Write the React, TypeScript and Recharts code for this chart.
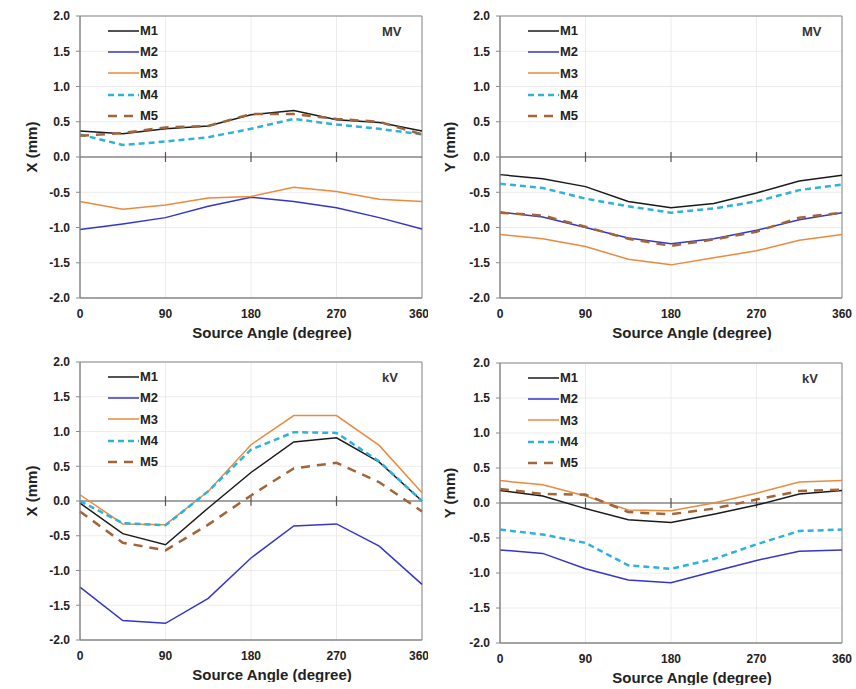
import {
  LineChart,
  Line,
  XAxis,
  YAxis,
  CartesianGrid,
  ReferenceLine,
  ReferenceArea,
  Legend,
} from "recharts";

const angles = [0, 45, 90, 135, 180, 225, 270, 315, 360];
const xTicks = [0, 90, 180, 270, 360];
const yTicks = [-2, -1.5, -1, -0.5, 0, 0.5, 1, 1.5, 2];
const seriesNames = ["M1", "M2", "M3", "M4", "M5"];

// MV, X direction
const mvX1 = [0.37, 0.33, 0.4, 0.44, 0.6, 0.66, 0.53, 0.49, 0.37];
const mvX2 = [-1.03, -0.95, -0.86, -0.7, -0.57, -0.63, -0.72, -0.86, -1.02];
const mvX3 = [-0.63, -0.74, -0.68, -0.58, -0.56, -0.43, -0.49, -0.6, -0.63];
const mvX4 = [0.32, 0.17, 0.22, 0.28, 0.4, 0.54, 0.46, 0.4, 0.32];
const mvX5 = [0.3, 0.34, 0.42, 0.44, 0.61, 0.61, 0.54, 0.5, 0.32];

// MV, Y direction
const mvY1 = [-0.25, -0.31, -0.42, -0.63, -0.72, -0.66, -0.51, -0.34, -0.26];
const mvY2 = [-0.78, -0.85, -1.0, -1.15, -1.23, -1.16, -1.04, -0.89, -0.79];
const mvY3 = [-1.1, -1.16, -1.27, -1.45, -1.53, -1.43, -1.33, -1.18, -1.1];
const mvY4 = [-0.38, -0.44, -0.59, -0.7, -0.79, -0.73, -0.63, -0.47, -0.39];
const mvY5 = [-0.79, -0.83, -0.99, -1.16, -1.26, -1.17, -1.06, -0.86, -0.79];

// kV, X direction
const kvX1 = [-0.03, -0.47, -0.63, -0.1, 0.41, 0.85, 0.91, 0.56, 0.0];
const kvX2 = [-1.24, -1.72, -1.76, -1.4, -0.82, -0.36, -0.33, -0.65, -1.2];
const kvX3 = [0.09, -0.33, -0.34, 0.14, 0.81, 1.23, 1.23, 0.8, 0.12];
const kvX4 = [0.0, -0.32, -0.35, 0.14, 0.74, 0.99, 0.98, 0.57, 0.0];
const kvX5 = [-0.15, -0.6, -0.71, -0.34, 0.08, 0.47, 0.55, 0.27, -0.15];

// kV, Y direction
const kvY1 = [0.18, 0.1, -0.08, -0.24, -0.28, -0.16, -0.03, 0.13, 0.18];
const kvY2 = [-0.67, -0.72, -0.94, -1.1, -1.14, -0.98, -0.82, -0.69, -0.67];
const kvY3 = [0.32, 0.26, 0.1, -0.1, -0.11, 0.0, 0.14, 0.3, 0.32];
const kvY4 = [-0.38, -0.45, -0.57, -0.89, -0.94, -0.8, -0.59, -0.4, -0.38];
const kvY5 = [0.2, 0.13, 0.12, -0.13, -0.16, -0.08, 0.05, 0.17, 0.19];

const FONT = "'Liberation Sans', Arial, sans-serif";

const styles = [
  { color: "#1a1a1a", width: 1.5, dash: undefined },
  { color: "#3535c8", width: 1.5, dash: undefined },
  { color: "#ea8a3e", width: 1.5, dash: undefined },
  { color: "#2eb2da", width: 2.5, dash: "6 4" },
  { color: "#a2653a", width: 2.5, dash: "9 7" },
];

function buildRows(series: number[][]) {
  return angles.map((a, i) => {
    const row: Record<string, number> = { angle: a };
    seriesNames.forEach((n, k) => {
      row[n] = series[k][i];
    });
    return row;
  });
}

function LegendBox() {
  return (
    <div style={{ fontFamily: FONT, fontWeight: "bold", fontSize: 13, color: "#222" }}>
      {seriesNames.map((n, k) => (
        <div key={n} style={{ display: "flex", alignItems: "center", height: 21.3 }}>
          <svg width={31} height={6}>
            <line
              x1={0}
              y1={3}
              x2={31}
              y2={3}
              stroke={styles[k].color}
              strokeWidth={styles[k].width}
              strokeDasharray={styles[k].dash}
            />
          </svg>
          <span style={{ marginLeft: 1 }}>{n}</span>
        </div>
      ))}
    </div>
  );
}

interface PanelProps {
  left: number;
  top: number;
  yWidth: number;
  rightMargin: number;
  plotHeight: number;
  yLabel: string;
  yLabelX: number;
  tag: string;
  series: number[][];
}

function Panel({ left, top, yWidth, rightMargin, plotHeight, yLabel, yLabelX, tag, series }: PanelProps) {
  const rows = buildRows(series);
  const height = 16 + plotHeight + 42;
  const tickStyle = { fill: "#222", fontSize: 12, fontWeight: "bold", fontFamily: FONT };
  return (
    <div style={{ position: "absolute", left, top, width: 428, height }}>
      <LineChart
        width={428}
        height={height}
        data={rows}
        margin={{ top: 16, right: rightMargin, left: 0, bottom: 0 }}
      >
        <CartesianGrid stroke="#ececec" strokeWidth={1} />
        <XAxis
          dataKey="angle"
          type="number"
          domain={[0, 360]}
          ticks={xTicks}
          tickLine={false}
          axisLine={{ stroke: "#888" }}
          tick={tickStyle}
          tickMargin={5}
          height={42}
          label={{
            position: "insideBottom",
            content: (p: any) => {
              const vb = p.viewBox;
              return (
                <text
                  x={vb.x + vb.width / 2 + 21}
                  y={vb.y + vb.height - 2}
                  textAnchor="middle"
                  fontFamily={FONT}
                  fontWeight="bold"
                  fontSize={15}
                  fill="#222"
                >
                  Source Angle (degree)
                </text>
              );
            },
          }}
        />
        <YAxis
          type="number"
          domain={[-2, 2]}
          ticks={yTicks}
          tickFormatter={(v: number) => v.toFixed(1)}
          tick={tickStyle}
          tickSize={4}
          tickMargin={6}
          tickLine={{ stroke: "#888" }}
          axisLine={{ stroke: "#888" }}
          width={yWidth}
          label={{
            position: "center",
            content: (p: any) => {
              const vb = p.viewBox;
              return (
                <text
                  transform={`translate(${yLabelX},${vb.y + vb.height / 2 - 10}) rotate(-90)`}
                  textAnchor="middle"
                  dominantBaseline="middle"
                  fontFamily={FONT}
                  fontWeight="bold"
                  fontSize={15}
                  fill="#222"
                >
                  {yLabel}
                </text>
              );
            },
          }}
        />
        <ReferenceArea x1={0} x2={360} y1={-2} y2={2} fill="none" stroke="#888" strokeWidth={1} />
        <ReferenceLine y={0} stroke="#555" strokeWidth={1.2} />
        {[90, 180, 270].map((a) => (
          <ReferenceLine
            key={a}
            segment={[
              { x: a, y: -0.07 },
              { x: a, y: 0.07 },
            ]}
            stroke="#555"
            strokeWidth={1.2}
          />
        ))}
        <Legend
          layout="horizontal"
          verticalAlign="middle"
          align="center"
          wrapperStyle={{ left: yWidth + 28, top: 20, width: "auto" }}
          content={() => <LegendBox />}
        />
        {seriesNames.map((n, k) => (
          <Line
            key={n}
            dataKey={n}
            type="linear"
            dot={false}
            stroke={styles[k].color}
            strokeWidth={styles[k].width}
            strokeDasharray={styles[k].dash}
            isAnimationActive={false}
          />
        ))}
      </LineChart>
      <div
        style={{
          position: "absolute",
          left: yWidth + 302,
          top: 24,
          fontFamily: FONT,
          fontWeight: "bold",
          fontSize: 13,
          color: "#333",
        }}
      >
        {tag}
      </div>
    </div>
  );
}

export default function App() {
  return (
    <div style={{ position: "absolute", left: 0, top: 0, width: 856, height: 689, background: "#fff" }}>
      <Panel left={0} top={0} yWidth={80} rightMargin={6} plotHeight={282} yLabel="X (mm)" yLabelX={33} tag="MV" series={[mvX1, mvX2, mvX3, mvX4, mvX5]} />
      <Panel left={428} top={0} yWidth={72} rightMargin={14} plotHeight={282} yLabel="Y (mm)" yLabelX={23} tag="MV" series={[mvY1, mvY2, mvY3, mvY4, mvY5]} />
      <Panel left={0} top={346} yWidth={80} rightMargin={6} plotHeight={278} yLabel="X (mm)" yLabelX={33} tag="kV" series={[kvX1, kvX2, kvX3, kvX4, kvX5]} />
      <Panel left={428} top={347} yWidth={72} rightMargin={14} plotHeight={280} yLabel="Y (mm)" yLabelX={23} tag="kV" series={[kvY1, kvY2, kvY3, kvY4, kvY5]} />
    </div>
  );
}
